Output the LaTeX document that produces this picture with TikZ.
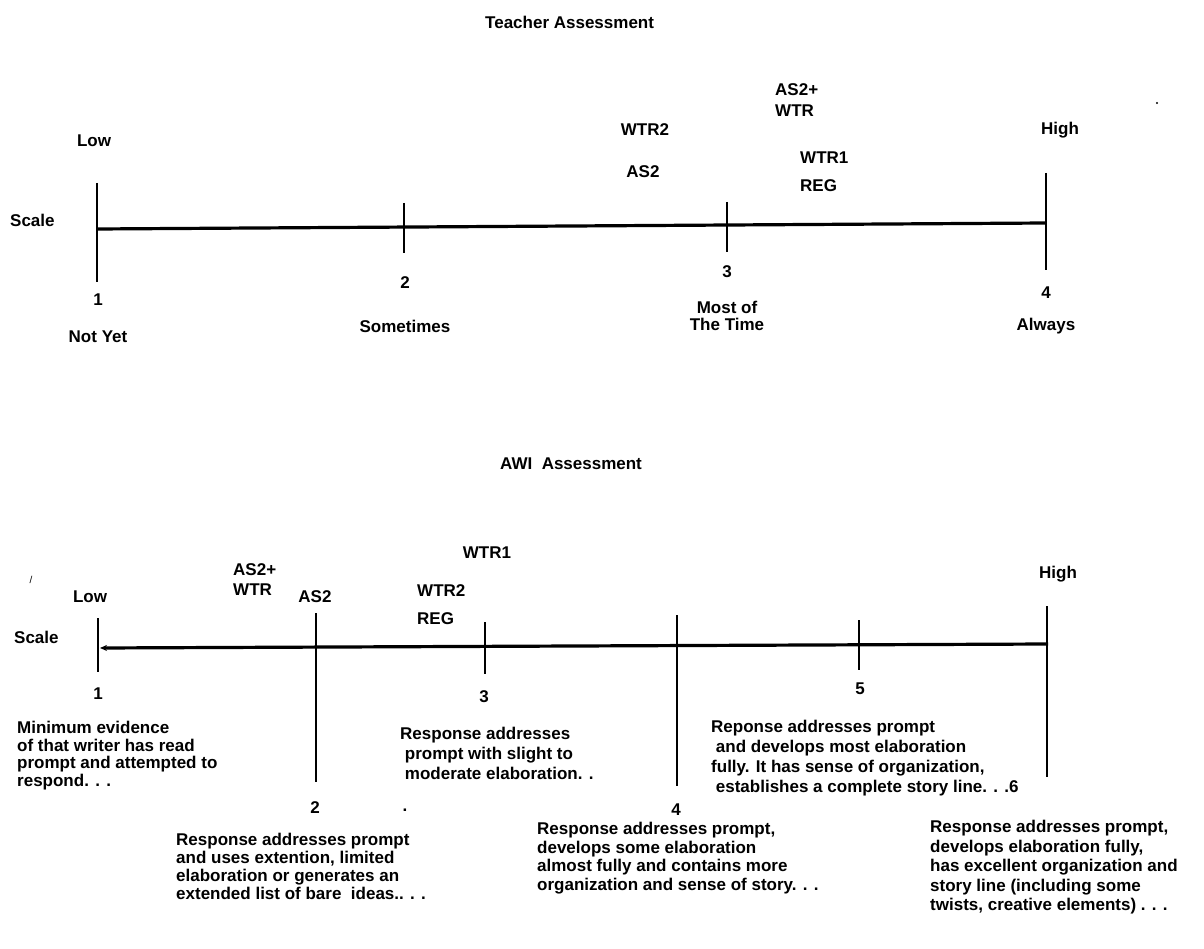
\documentclass[tikz,border=0pt]{standalone}
\usepackage{fontspec}
\setmainfont{Liberation Sans}
\usetikzlibrary{arrows.meta}
\begin{document}
\begin{tikzpicture}[x=1pt,y=-1pt,
  lbl/.style={font=\fontsize{17}{17.5}\selectfont\bfseries, inner sep=0pt},
  lblw/.style={lbl, anchor=west},
  para/.style={lbl, anchor=north west, align=left, font=\fontsize{17}{#1}\selectfont\bfseries},
  para/.default=17.5,
  axis/.style={line width=3.2pt},
  tick/.style={line width=2.8pt}]
\useasboundingbox (0,0) rectangle (1204,949);
% ---------- Teacher assessment ----------
\node[lblw] (t1) at (485,22) {Teacher Assessment};
\node[lbl] (tlow) at (94,141) {Low};
\node[lblw] (tscale) at (10,220) {Scale};
\node[lbl] (thigh) at (1060,130) {High};
\coordinate (ta1) at (97,183); \coordinate (tb1) at (97,282);
\coordinate (ta2) at (404,203); \coordinate (tb2) at (404,253);
\coordinate (ta3) at (727,202); \coordinate (tb3) at (727,252);
\coordinate (ta4) at (1046,173); \coordinate (tb4) at (1046,270);
\coordinate (tl0) at (97,229); \coordinate (tl1) at (1046,223);
\draw[axis] (tl0) -- (tl1);
\draw[tick] (ta1) -- (tb1);
\draw[tick] (ta2) -- (tb2);
\draw[tick] (ta3) -- (tb3);
\draw[tick] (ta4) -- (tb4);
\node[lbl] (tn1) at (98,300) {1};
\node[lbl] (tt1) at (98,337) {Not Yet};
\node[lbl] (tn2) at (405,283) {2};
\node[lbl] (tt2) at (405,326) {Sometimes};
\node[lbl] (tn3) at (727,272) {3};
\node[lbl, align=center] (tt3) at (727,316) {Most of\\The Time};
\node[lbl] (tn4) at (1046,293) {4};
\node[lbl] (tt4) at (1046,326) {Always};
\node[lbl] (twtr2) at (645,130) {WTR2};
\node[lbl] (tas2) at (643,172) {AS2};
\node[lblw] (tas2p) at (775,90) {AS2+};
\node[lblw] (twtr) at (775,111) {WTR};
\node[lblw] (twtr1) at (800,158) {WTR1};
\node[lblw] (treg) at (800,186) {REG};
\fill (1157,103) circle (1.2pt);
% ---------- AWI assessment ----------
\node[lblw] (t2) at (500,464) {AWI\ \ Assessment};
\node[lbl, font=\fontsize{10}{10}\selectfont] (slash) at (31,580) {/};
\node[lbl] (blow) at (90,597) {Low};
\node[lblw] (bscale) at (14,637) {Scale};
\node[lblw] (bas2p) at (233,570) {AS2+};
\node[lblw] (bwtr) at (233,590) {WTR};
\node[lbl] (bas2) at (315,597) {AS2};
\node[lbl] (bwtr1) at (487,553) {WTR1};
\node[lblw] (bwtr2) at (417,591) {WTR2};
\node[lblw] (breg) at (417,619) {REG};
\node[lbl] (bhigh) at (1058,574) {High};
\coordinate (bl0) at (100,648); \coordinate (bl1) at (1048,644);
\draw[axis, -{Stealth[length=7pt,width=6pt]}] (bl1) -- (bl0);
\coordinate (ba1) at (98,618); \coordinate (bb1) at (98,672);
\coordinate (ba2) at (316,613); \coordinate (bb2) at (316,782);
\coordinate (ba3) at (485,622); \coordinate (bb3) at (485,674);
\coordinate (ba4) at (677,615); \coordinate (bb4) at (677,786);
\coordinate (ba5) at (859,620); \coordinate (bb5) at (859,670);
\coordinate (ba6) at (1047,606); \coordinate (bb6) at (1047,777);
\draw[tick] (ba1) -- (bb1);
\draw[tick] (ba2) -- (bb2);
\draw[tick] (ba3) -- (bb3);
\draw[tick] (ba4) -- (bb4);
\draw[tick] (ba5) -- (bb5);
\draw[tick] (ba6) -- (bb6);
\node[lbl] (bn1) at (98,694) {1};
\node[lbl] (bn3) at (484,697) {3};
\node[lbl] (bn5) at (860,689) {5};
\node[lbl] (bn2) at (315,808) {2};
\node[lbl] (bn4) at (676,810) {4};
\node[para] (d1) at (17,721) {Minimum evidence\\of that writer has read\\prompt and attempted to\\respond. . .};
\node[para=20] (d3) at (400,727) {Response addresses\\\ prompt with slight to\\\ moderate elaboration. .};
\node[lbl] (dot3) at (405,810) {.};
\node[para=20] (d5) at (711,720) {Reponse addresses prompt\\\ and develops most elaboration\\fully. It has sense of organization,\\\ establishes a complete story line. . .6};
\node[para=18] (d2) at (176,833) {Response addresses prompt\\and uses extention, limited\\elaboration or generates an\\extended list of bare\ \ ideas.. . .};
\node[para=18.5] (d4) at (537,822) {Response addresses prompt,\\develops some elaboration\\almost fully and contains more\\organization and sense of story. . .};
\node[para=19.5] (d6) at (930,820) {Response addresses prompt,\\develops elaboration fully,\\has excellent organization and\\story line (including some\\twists, creative elements) . . .};
\end{tikzpicture}
\end{document}
